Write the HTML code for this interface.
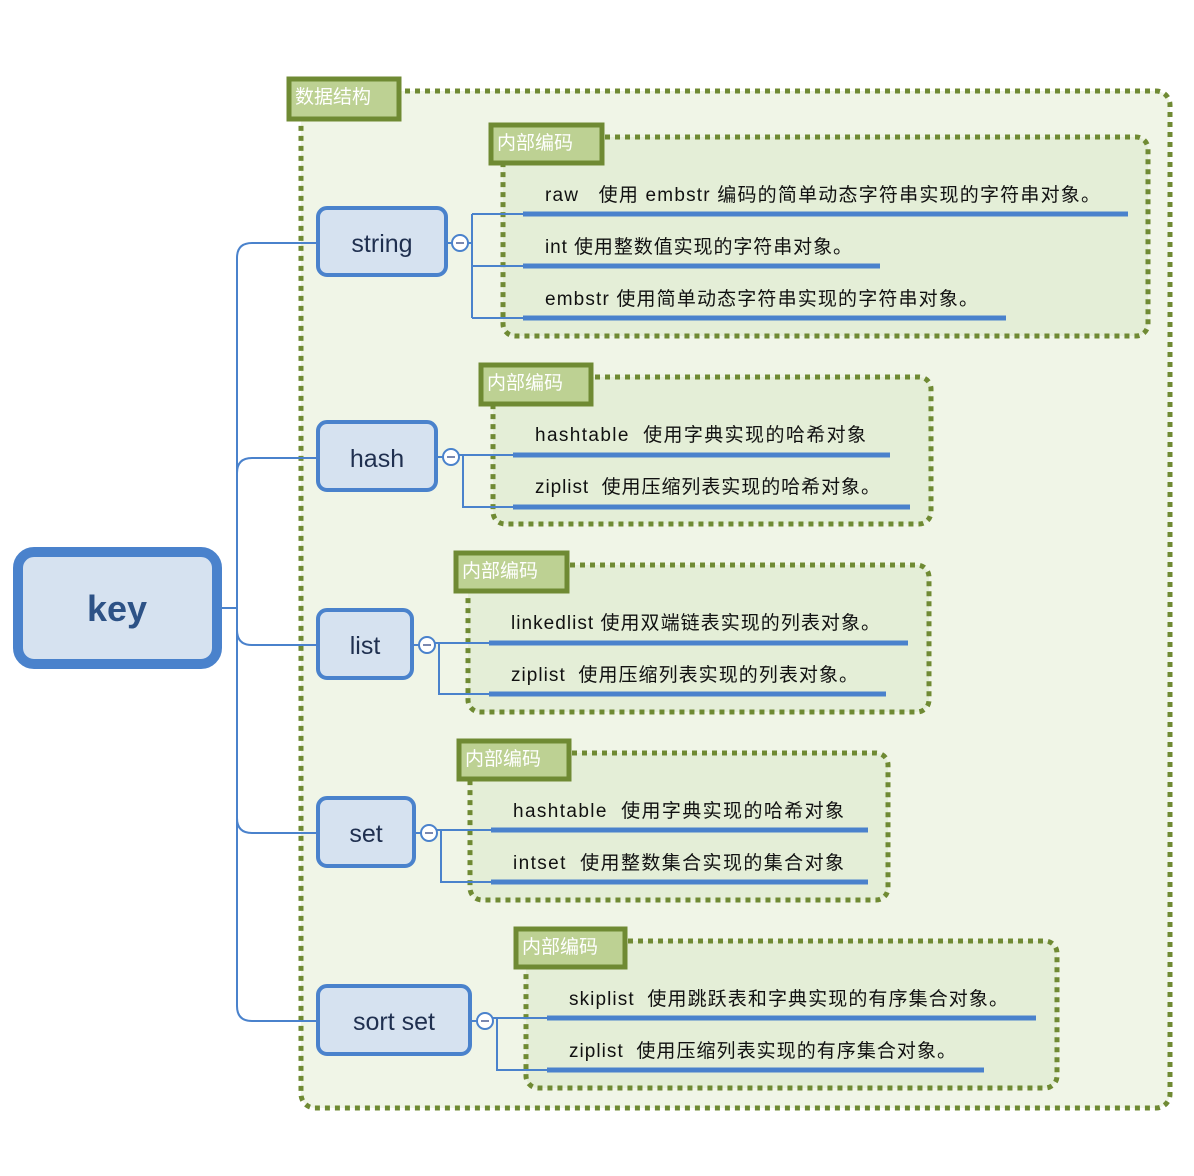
<!DOCTYPE html>
<html><head><meta charset="utf-8"><style>
html,body{margin:0;padding:0;background:#fff;}
svg{display:block;}
text{font-family:"Liberation Sans","Noto Sans CJK SC",sans-serif;white-space:pre;}
</style></head><body>
<svg width="1194" height="1176" viewBox="0 0 1194 1176" xmlns="http://www.w3.org/2000/svg">
<rect x="301" y="91" width="869" height="1017" rx="14" fill="#f0f5e7" stroke="#6f8a33" stroke-width="5" stroke-dasharray="5 5"/>
<rect x="289" y="79" width="110" height="40" fill="#bdd193" stroke="#6f8a33" stroke-width="5"/>
<text x="295" y="103" font-size="19" fill="#fff">数据结构</text>

<g fill="#e4eed7" stroke="#6f8a33" stroke-width="5" stroke-dasharray="5 5">
<rect x="503" y="137" width="645" height="199" rx="12"/>
<rect x="493" y="377" width="438" height="147" rx="12"/>
<rect x="468" y="565" width="461" height="147" rx="12"/>
<rect x="470" y="753" width="418" height="147" rx="12"/>
<rect x="526" y="941" width="531" height="147" rx="12"/>
</g>
<g fill="#bdd193" stroke="#6f8a33" stroke-width="5">
<rect x="491" y="125" width="111" height="38"/>
<rect x="481" y="365" width="110" height="39"/>
<rect x="456" y="553" width="111" height="38"/>
<rect x="459" y="741" width="110" height="38"/>
<rect x="516" y="929" width="109" height="38"/>
</g>
<g font-size="19" fill="#fff">
<text x="497" y="149">内部编码</text>
<text x="487" y="389">内部编码</text>
<text x="462" y="577">内部编码</text>
<text x="465" y="765">内部编码</text>
<text x="522" y="953">内部编码</text>
</g>

<g fill="none" stroke="#4a82cc" stroke-width="2">
<path d="M219 608 H237"/>
<path d="M318 243 H252 Q237 243 237 258 V1006 Q237 1021 252 1021 H318"/>
<path d="M318 458 H252 Q237 458 237 473"/>
<path d="M318 645 H252 Q237 645 237 630"/>
<path d="M318 833 H252 Q237 833 237 818"/>
<path d="M446 243 H452 M468 243 H472 M472 214 V318 M472 214 H523 M472 266 H523 M472 318 H523"/>
<path d="M436 457 H443 M459 455 H523 M463 455 V507 H513"/>
<path d="M412 645 H419 M435 643 H489 M439 643 V694 H489"/>
<path d="M414 833 H421 M437 830 H491 M441 830 V882 H491"/>
<path d="M470 1021 H477 M493 1018 H547 M497 1018 V1070 H547"/>
</g>

<g stroke="#4a82cc" stroke-width="5">
<path d="M523 214 H1128 M523 266 H880 M523 318 H1006"/>
<path d="M513 455 H890 M513 507 H910"/>
<path d="M489 643 H908 M489 694 H886"/>
<path d="M491 830 H868 M491 882 H868"/>
<path d="M547 1018 H1036 M547 1070 H984"/>
</g>

<g font-size="19" fill="#111">
<text x="545" y="201" textLength="555" lengthAdjust="spacing">raw   使用 embstr 编码的简单动态字符串实现的字符串对象。</text>
<text x="545" y="253" textLength="307" lengthAdjust="spacing">int 使用整数值实现的字符串对象。</text>
<text x="545" y="305" textLength="433" lengthAdjust="spacing">embstr 使用简单动态字符串实现的字符串对象。</text>
<text x="535" y="441" textLength="331" lengthAdjust="spacing">hashtable  使用字典实现的哈希对象</text>
<text x="535" y="493" textLength="345" lengthAdjust="spacing">ziplist  使用压缩列表实现的哈希对象。</text>
<text x="511" y="629" textLength="369" lengthAdjust="spacing">linkedlist 使用双端链表实现的列表对象。</text>
<text x="511" y="681" textLength="347" lengthAdjust="spacing">ziplist  使用压缩列表实现的列表对象。</text>
<text x="513" y="817" textLength="331" lengthAdjust="spacing">hashtable  使用字典实现的哈希对象</text>
<text x="513" y="869" textLength="331" lengthAdjust="spacing">intset  使用整数集合实现的集合对象</text>
<text x="569" y="1005" textLength="439" lengthAdjust="spacing">skiplist  使用跳跃表和字典实现的有序集合对象。</text>
<text x="569" y="1057" textLength="387" lengthAdjust="spacing">ziplist  使用压缩列表实现的有序集合对象。</text>
</g>

<g fill="#fff" stroke="#4a82cc" stroke-width="2">
<circle cx="460" cy="243" r="8"/>
<circle cx="451" cy="457" r="8"/>
<circle cx="427" cy="645" r="8"/>
<circle cx="429" cy="833" r="8"/>
<circle cx="485" cy="1021" r="8"/>
</g>
<g stroke="#7a88b0" stroke-width="2">
<path d="M456 243 H464 M447 457 H455 M423 645 H431 M425 833 H433 M481 1021 H489"/>
</g>

<rect x="18" y="552" width="199" height="112" rx="16" fill="#d6e2f0" stroke="#4a82cc" stroke-width="10"/>
<text x="117" y="621" font-size="36" font-weight="bold" fill="#2d5286" text-anchor="middle">key</text>

<g fill="#d6e2f0" stroke="#4a82cc" stroke-width="4">
<rect x="318" y="208" width="128" height="67" rx="9"/>
<rect x="318" y="422" width="118" height="68" rx="9"/>
<rect x="318" y="610" width="94" height="68" rx="9"/>
<rect x="318" y="798" width="96" height="68" rx="9"/>
<rect x="318" y="986" width="152" height="68" rx="9"/>
</g>
<g font-size="25" fill="#1f2f4f" text-anchor="middle">
<text x="382" y="252">string</text>
<text x="377" y="467">hash</text>
<text x="365" y="654">list</text>
<text x="366" y="842">set</text>
<text x="394" y="1030">sort set</text>
</g>
</svg>
</body></html>
